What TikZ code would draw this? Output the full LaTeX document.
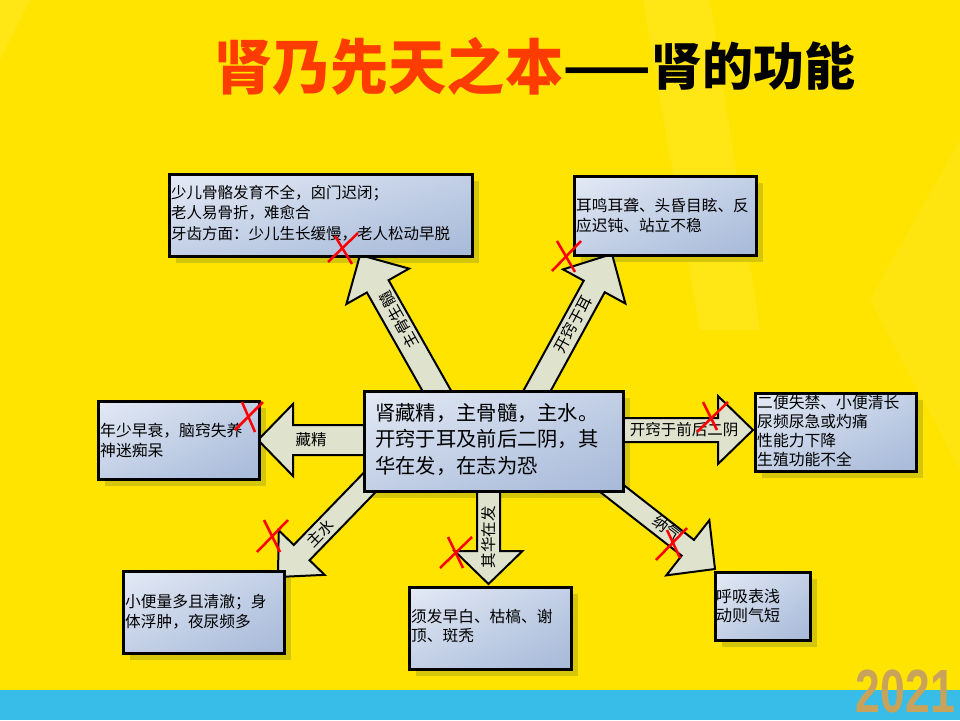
\documentclass[tikz,border=0pt]{standalone}
\usepackage{fontspec}
\setmainfont{Noto Sans CJK SC}
\newfontfamily\numfont{Liberation Sans}
\usetikzlibrary{calc,shadings}
\definecolor{bgyellow}{HTML}{FFE400}
\definecolor{stripblue}{HTML}{38BDE8}
\definecolor{shadowc}{HTML}{D6C60A}
\definecolor{arrowc}{HTML}{DFE2CC}
\definecolor{titlered}{HTML}{FF3C00}
\definecolor{goldc}{HTML}{C9A35A}
\definecolor{boxa}{HTML}{E4EAF5}
\definecolor{boxb}{HTML}{C2CFE6}
\definecolor{boxc}{HTML}{A6B9D8}
\pgfdeclarelayer{bgl}
\pgfdeclarelayer{shadowl}
\pgfdeclarelayer{arrowl}
\pgfsetlayers{bgl,shadowl,arrowl,main}
\tikzset{
  kbox/.style={draw=black, line width=3pt, inner sep=0pt,
    upper left=boxa, upper right=boxb, lower left=boxb, lower right=boxc},
  arrowfill/.style={fill=arrowc, draw=black, line width=2pt, line join=miter},
  boxtext/.style={anchor=west, inner sep=0pt, align=left,
    font=\fontsize{15.5}{20}\selectfont},
  alabel/.style={inner sep=0pt, font=\fontsize{15.5}{18}\selectfont},
  xmark/.style={draw=red, line width=2.5pt},
}
% #1 name, #2 x1, #3 y1, #4 x2, #5 y2
\newcommand{\kboxat}[5]{%
  \begin{pgfonlayer}{shadowl}
    \fill[shadowc] (#2+8,#3+8) rectangle (#4+8,#5+8);
  \end{pgfonlayer}
  \node[kbox, anchor=north west, minimum width=#4-#2, minimum height=#5-#3] (#1) at (#2,#3) {};
}
% #1 start, #2 tip, #3 shaft half width, #4 head half width, #5 head length
\newcommand{\blockarrow}[5]{%
  \begin{pgfonlayer}{arrowl}
  \coordinate (bh) at ($(#2)!#5!(#1)$);
  \filldraw[arrowfill] ($(#1)!#3!90:(#2)$) -- ($(bh)!#3!-90:(#1)$) -- ($(bh)!#4!-90:(#1)$) -- (#2) -- ($(bh)!#4!90:(#1)$) -- ($(bh)!#3!90:(#1)$) -- ($(#1)!#3!-90:(#2)$) -- cycle;
  \end{pgfonlayer}
}
\newcommand{\redx}[8]{%
  \draw[xmark] (#1,#2) -- (#3,#4);
  \draw[xmark] (#5,#6) -- (#7,#8);
}
\begin{document}
\begin{tikzpicture}[x=1pt,y=-1pt]
\useasboundingbox (0,0) rectangle (960,720);
\begin{pgfonlayer}{bgl}
  \fill[bgyellow] (0,0) rectangle (960,720);
  \fill[white, opacity=0.08] (643,0) -- (710,0) -- (760,330) -- (700,330) -- cycle;
  \fill[white, opacity=0.06] (960,140) -- (960,470) -- (870,300) -- cycle;
  \fill[white, opacity=0.08] (0,0) -- (30,0) -- (0,60) -- cycle;
  \fill[stripblue] (0,690) rectangle (960,720);
\end{pgfonlayer}

% title
\node[anchor=west, inner sep=0pt, text=titlered, font=\fontsize{60}{60}\selectfont\bfseries, xscale=0.97] (t1) at (214,66) {肾乃先天之本};
\node[anchor=west, inner sep=0pt, text=black, font=\fontsize{51}{51}\selectfont\bfseries, xscale=1.0] (t2) at (t1.east) {——肾的功能};

% boxes
\kboxat{tl}{168}{173}{471}{255}
\kboxat{tr}{573}{175}{755}{254}
\kboxat{lf}{97}{400}{258}{478}
\kboxat{ct}{363}{390}{622}{490}
\kboxat{rt}{754}{392}{915}{470}
\kboxat{bl}{122}{570}{283}{652}
\kboxat{bc}{408}{586}{570}{668}
\kboxat{br}{714}{571}{809}{639}

% arrows
\coordinate (sA) at (442,400); \coordinate (tA) at (360,255);
\coordinate (sB) at (532,400); \coordinate (tB) at (612,254);
\coordinate (sC) at (375,440); \coordinate (tC) at (258,440);
\coordinate (sD) at (610,430); \coordinate (tD) at (753,430);
\coordinate (sE) at (372,480); \coordinate (tE) at (278,577);
\coordinate (sF) at (488.5,480); \coordinate (tF) at (488.5,584);
\coordinate (sG) at (601,480); \coordinate (tG) at (715,569);
\blockarrow{sA}{tA}{12.5pt}{36pt}{36pt}
\blockarrow{sB}{tB}{12pt}{35.5pt}{37pt}
\blockarrow{sC}{tC}{15pt}{36pt}{35pt}
\blockarrow{sD}{tD}{12pt}{34pt}{35pt}
\blockarrow{sE}{tE}{11pt}{32pt}{34pt}
\blockarrow{sF}{tF}{11.5pt}{34pt}{33pt}
\blockarrow{sG}{tG}{10pt}{35pt}{34.5pt}

% arrow labels
\node[alabel, rotate=119.4] (lA) at (399,320) {主骨生髓};
\node[alabel, rotate=61.5] (lB) at (573,324) {开窍于耳};
\node[alabel] (lC) at (311,440) {藏精};
\node[alabel] (lD) at (684,430) {开窍于前后二阴};
\node[alabel, rotate=45.7] (lE) at (320,533) {主水};
\node[alabel, rotate=90] (lF) at (488.5,537) {其华在发};
\node[alabel, rotate=-38] (lG) at (667,528) {纳气};

% box texts
\node[boxtext, font=\fontsize{15.5}{20.5}\selectfont] at (171,213) {少儿骨骼发育不全，囟门迟闭；\\老人易骨折，难愈合\\牙齿方面：少儿生长缓慢，老人松动早脱};
\node[boxtext, font=\fontsize{15.7}{19.5}\selectfont] at (576,215.5) {耳鸣耳聋、头昏目眩、反\\应迟钝、站立不稳};
\node[boxtext, font=\fontsize{15.8}{20}\selectfont] at (100,440) {年少早衰，脑窍失养\\神迷痴呆};
\node[boxtext, font=\fontsize{20.3}{26.5}\selectfont] at (375,439.5) {肾藏精，主骨髓，主水。\\开窍于耳及前后二阴，其\\华在发，在志为恐};
\node[boxtext, font=\fontsize{15.8}{18.7}\selectfont] at (757,431) {二便失禁、小便清长\\尿频尿急或灼痛\\性能力下降\\生殖功能不全};
\node[boxtext, font=\fontsize{15.7}{20}\selectfont] at (125,612) {小便量多且清澈；身\\体浮肿，夜尿频多};
\node[boxtext, font=\fontsize{15.7}{19}\selectfont] at (411,626.5) {须发早白、枯槁、谢\\顶、斑秃};
\node[boxtext, font=\fontsize{16}{18.5}\selectfont] at (716,606) {呼吸表浅\\动则气短};

% red crosses
\redx{328}{262}{358}{233}{335}{236}{352}{264}
\redx{552}{271}{581}{241}{557}{241}{575}{272}
\redx{235}{430}{263}{402}{242}{402}{255}{432}
\redx{697}{432}{728}{402}{703}{402}{717}{430}
\redx{257}{552}{288}{520}{264}{520}{280}{552}
\redx{440}{568}{472}{537}{448}{537}{463}{568}
\redx{656}{560}{687}{528}{667}{530}{680}{558}

% 2021
\node[anchor=south east, inner sep=0pt, text=goldc, font=\numfont\bfseries\fontsize{61}{61}\selectfont, xscale=0.73] (yr) at (955,713) {2021};
\end{tikzpicture}
\end{document}
